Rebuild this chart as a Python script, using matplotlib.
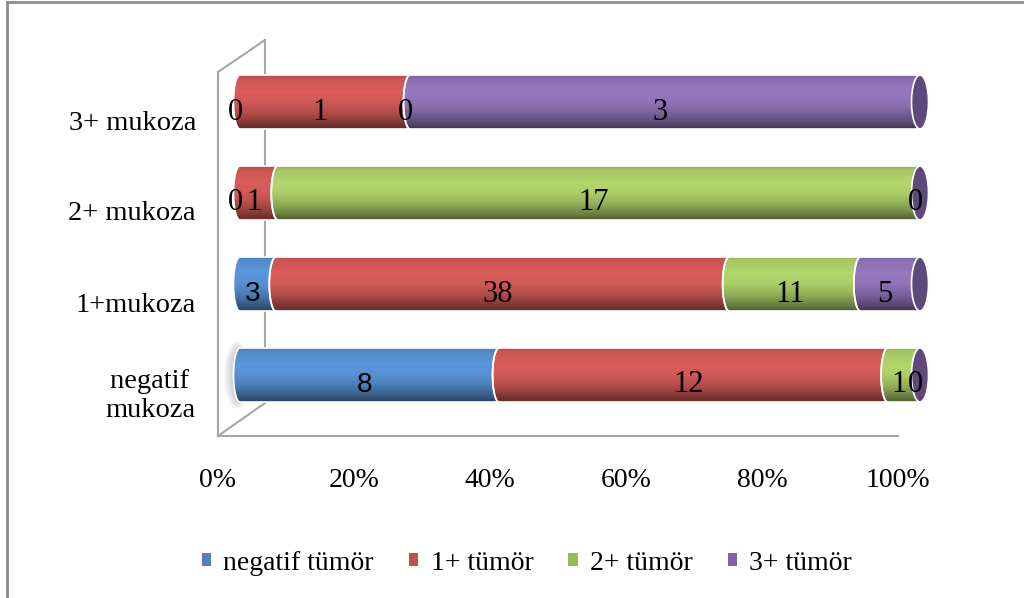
"""Stacked 100% cylinder bars: tumour score vs. mucosa score."""

import numpy as np
import matplotlib.pyplot as plt
from matplotlib import transforms
from matplotlib.lines import Line2D
from matplotlib.patches import Ellipse, Patch, Polygon

categories = ["negatif \nmukoza", "1+mukoza", "2+ mukoza", "3+ mukoza"]
series = ["negatif tümör", "1+ tümör", "2+ tümör", "3+ tümör"]
negatif_tumor = [8, 3, 0, 0]
tumor_1 = [12, 38, 1, 1]
tumor_2 = [1, 11, 17, 0]
tumor_3 = [0, 5, 0, 3]
tick_values = [0, 0.2, 0.4, 0.6, 0.8, 1.0]
tick_labels = ["0%", "20%", "40%", "60%", "80%", "100%"]

flat_colors = ["#4F81BD", "#C0504D", "#9BBB59", "#8064A2"]
light_colors = ["#5B97DC", "#DA5D5A", "#B3D66C", "#9678BF"]
end_face = "#5E497B"

W, H = 1024, 598
plt.rcParams["font.family"] = ["Liberation Serif", "DejaVu Serif"]

counts = np.array([negatif_tumor, tumor_1, tumor_2, tumor_3], dtype=float)
share = counts / counts.sum(axis=0)
lefts = np.vstack([np.zeros(len(categories)), np.cumsum(share, axis=0)[:-1]])

fig = plt.figure(figsize=(W / 100, H / 100), dpi=100)
fig.patch.set_facecolor("white")

# outer chart border (only top and left edges fall inside the image)
fig.add_artist(Line2D([7 / W, 7 / W], [0, 1 - 2 / H], color="#8C8C8C", lw=2,
                      transform=fig.transFigure))
fig.add_artist(Line2D([7 / W, 1], [1 - 2 / H, 1 - 2 / H], color="#8C8C8C", lw=2,
                      transform=fig.transFigure))

# floor / side walls of the 3D box
ax_f = fig.add_axes([218 / W, 1 - 436 / H, 680 / W, (436 - 72) / H])
ax_f.set_facecolor("none")
ax_f.set_xlim(0, 1)
ax_f.set_ylim(0, 1)
for side in ("top", "right"):
    ax_f.spines[side].set_visible(False)
for side in ("left", "bottom"):
    ax_f.spines[side].set_color("#A6A6A6")
    ax_f.spines[side].set_linewidth(1.5)
ax_f.set_yticks([])
ax_f.set_xticks(tick_values)
ax_f.set_xticklabels(tick_labels, fontsize=20)
ax_f.tick_params(axis="x", length=0, pad=23)

wall = dict(color="#A6A6A6", lw=1.5, transform=fig.transFigure, zorder=-1)
for (x0, y0), (x1, y1) in [((218, 72), (265, 40)), ((265, 40), (265, 403)),
                           ((218, 436), (265, 403))]:
    fig.add_artist(Line2D([x0 / W, x1 / W], [1 - y0 / H, 1 - y1 / H], **wall))

# bar axes: 0..1 spans 680 px starting at x=240, one category per 91 px
x_zero = 240
m = 0.04
ax = fig.add_axes([(x_zero - m * 680) / W, 1 - 420.5 / H, 680 * (1 + 2 * m) / W, 364 / H])
ax.set_xlim(-m, 1 + m)
ax.set_ylim(-0.5, 3.5)
ax.axis("off")

a = 6.5 / 680        # horizontal semi-axis of the segment joints
a_face = 8.5 / 680   # horizontal semi-axis of the visible end face
h = 54 / 91          # bar thickness

profile_t = [0.0, 0.08, 0.3, 0.5, 0.7, 0.85, 1.0]
profile_f = [0.84, 0.93, 1.0, 0.96, 0.82, 0.65, 0.45]
rows = np.linspace(0, 1, 64)
shade = np.interp(rows, profile_t, profile_f)


def segment_outline(x0, x1, yc):
    phi = np.linspace(np.pi / 2, -np.pi / 2, 40)
    right = np.column_stack([x1 - a * np.cos(phi), yc + h / 2 * np.sin(phi)])
    left = np.column_stack([x0 - a * np.cos(phi[::-1]), yc + h / 2 * np.sin(phi[::-1])])
    return np.vstack([right, left])


# soft shadow behind the left end of the bottom bar
for k in range(6):
    ax.add_patch(Ellipse((-0.004, 0), 2 * a + k * 0.004, h + k * 0.03,
                         color="#7F7F7F", alpha=0.06, lw=0, zorder=0.5, clip_on=False))

for i in range(len(series)):
    rgb = np.array(plt.matplotlib.colors.to_rgb(light_colors[i]))
    grad = np.clip(shade[:, None, None] * rgb[None, None, :], 0, 1)
    grad = np.repeat(grad, 2, axis=1)
    for j in range(len(categories)):
        x0 = lefts[i, j]
        x1 = x0 + share[i, j]
        if share[i, j] > 0:
            poly = Polygon(segment_outline(x0, x1, j), closed=True, facecolor="none",
                           edgecolor="white", lw=1.2, zorder=2 + i * 0.1, clip_on=False)
            ax.add_patch(poly)
            im = ax.imshow(grad, extent=(x0 - a, x1, j - h / 2, j + h / 2),
                           aspect="auto", origin="upper", zorder=1 + i * 0.1,
                           interpolation="bilinear")
            im.set_clip_path(poly)

# end faces of the cylinders
for j in range(len(categories)):
    ax.add_patch(Ellipse((1, j), 2 * a_face, h, facecolor=end_face, edgecolor="white",
                         lw=1.2, zorder=3, clip_on=False))

# value labels
lab_off = transforms.ScaledTranslation(-5 / 100, -10 / 100, fig.dpi_scale_trans)
for i in range(len(series)):
    for j in range(len(categories)):
        sans = i == 0 and counts[i, j] > 0
        fam = ["Liberation Sans", "DejaVu Sans"] if sans else ["Liberation Serif", "DejaVu Serif"]
        xc = lefts[i, j] + share[i, j] / 2
        ax.text(xc, j, f"{int(counts[i, j])}", ha="center", va="center",
                fontsize=20 if sans else 22, family=fam, color="black", zorder=5,
                transform=ax.transData + lab_off)

# category labels
cat_off = transforms.ScaledTranslation(0, -21 / 100, fig.dpi_scale_trans)
for j, name in enumerate(categories):
    ax.text((196 - x_zero) / 680, j, name, ha="right", va="center", fontsize=20.5,
            multialignment="right", linespacing=1.2, transform=ax.transData + cat_off)

handles = [Patch(facecolor=c, edgecolor="none") for c in flat_colors]
fig.legend(handles, series, loc="center", bbox_to_anchor=(527 / W, 1 - 563 / H),
           ncol=4, frameon=False, fontsize=20, handlelength=0.33, handleheight=0.33,
           handletextpad=0.45, columnspacing=1.26)

fig.savefig("out.png", dpi=100)
